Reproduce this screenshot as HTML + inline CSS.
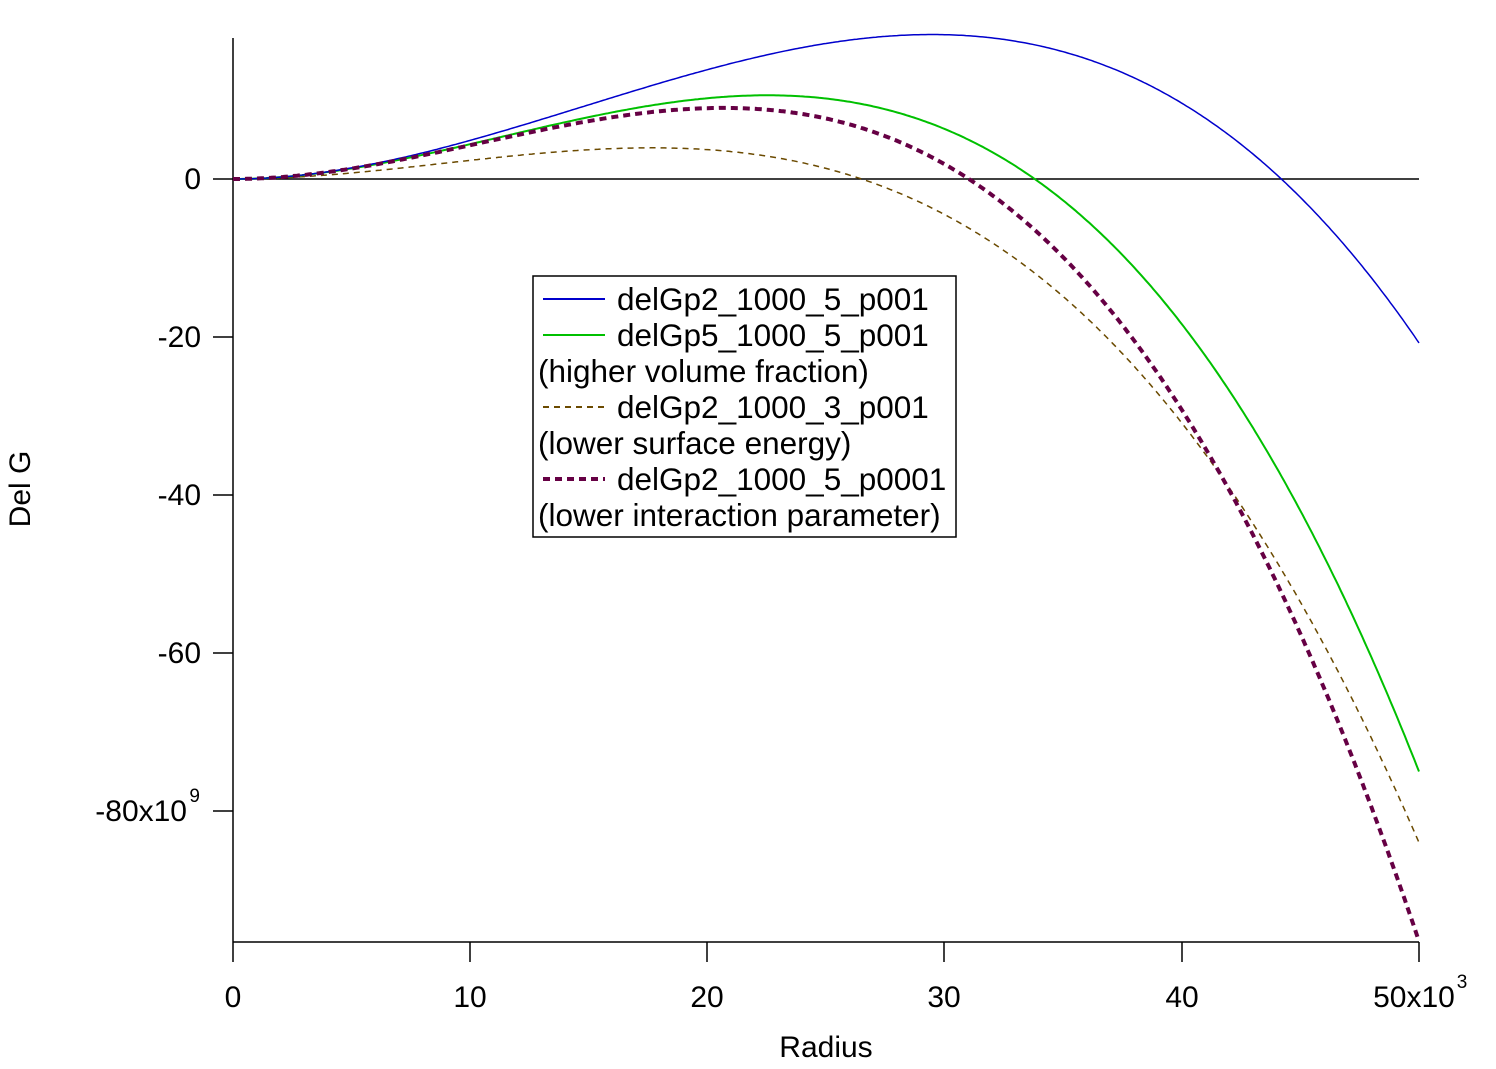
<!DOCTYPE html>
<html><head><meta charset="utf-8"><style>
html,body{margin:0;padding:0;background:#fff;}
svg text{font-family:"Liberation Sans",Arial,sans-serif;fill:#000;}
</style></head><body>
<svg id="s" width="1496" height="1064" viewBox="0 0 1496 1064" xmlns="http://www.w3.org/2000/svg">
<rect width="1496" height="1064" fill="#fff"/>
<g stroke="#000" stroke-width="1.5" fill="none">
<line x1="233" y1="38" x2="233" y2="942"/>
<line x1="233" y1="942" x2="1419" y2="942"/>
<line x1="233" y1="179" x2="1419" y2="179"/>
<line x1="233" y1="942" x2="233" y2="962"/>
<line x1="470" y1="942" x2="470" y2="962"/>
<line x1="707" y1="942" x2="707" y2="962"/>
<line x1="944" y1="942" x2="944" y2="962"/>
<line x1="1182" y1="942" x2="1182" y2="962"/>
<line x1="1419" y1="942" x2="1419" y2="962"/>
<line x1="213" y1="179" x2="233" y2="179"/>
<line x1="213" y1="337" x2="233" y2="337"/>
<line x1="213" y1="495" x2="233" y2="495"/>
<line x1="213" y1="653" x2="233" y2="653"/>
<line x1="213" y1="811" x2="233" y2="811"/>
</g>
<g font-size="30" text-anchor="middle">
<text x="233" y="1007">0</text>
<text x="470" y="1007">10</text>
<text x="707" y="1007">20</text>
<text x="944" y="1007">30</text>
<text x="1182" y="1007">40</text>
<text x="1414" y="1007">50x10</text>
<text x="1462" y="988" font-size="19">3</text>
<text x="826" y="1057">Radius</text>
</g>
<g font-size="30" text-anchor="end">
<text x="201" y="189">0</text>
<text x="201" y="347">-20</text>
<text x="201" y="505">-40</text>
<text x="201" y="663">-60</text>
<text x="187" y="821">-80x10</text>
<text x="200" y="802" font-size="19">9</text>
</g>
<text x="30" y="489" font-size="30" text-anchor="middle" transform="rotate(-90 30 489)">Del G</text>
<g id="curves" fill="none"></g>
<rect x="533" y="276" width="423" height="261" fill="#fff" stroke="#000" stroke-width="1.5"/>
<g stroke-width="2">
<line x1="543" y1="299" x2="605" y2="299" stroke="#0000cc"/>
<line x1="543" y1="335" x2="605" y2="335" stroke="#00c000"/>
<line x1="543" y1="407" x2="605" y2="407" stroke="#6b4a00" stroke-dasharray="6,5"/>
<line x1="543" y1="479" x2="605" y2="479" stroke="#660044" stroke-width="4" stroke-dasharray="7,5"/>
</g>
<g font-size="31.5">
<text x="617" y="310">delGp2_1000_5_p001</text>
<text x="617" y="346">delGp5_1000_5_p001</text>
<text x="538" y="382">(higher volume fraction)</text>
<text x="617" y="418">delGp2_1000_3_p001</text>
<text x="538" y="454">(lower surface energy)</text>
<text x="617" y="490">delGp2_1000_5_p0001</text>
<text x="538" y="526">(lower interaction parameter)</text>
</g>
</svg>
<script>
(function(){
var series=[
 {a:0.0379,b:0.00143,c:"#6b4a00",w:1.5,d:"6,5"},
 {a:0.0626,b:0.001852,c:"#00c000",w:2,d:""},
 {a:0.0632,b:0.00143,c:"#0000cc",w:1.5,d:""},
 {a:0.0631,b:0.002034,c:"#660044",w:4,d:"7,5"}
];
var g=document.getElementById("curves");var ns="http://www.w3.org/2000/svg";
series.forEach(function(s){
 var p="";
 for(var i=0;i<=500;i++){var r=i*0.1;var v=s.a*r*r-s.b*r*r*r;
  var x=233+r*23.72;var y=179-v*7.9;p+=(i?"L":"M")+x.toFixed(1)+","+y.toFixed(1);}
 var e=document.createElementNS(ns,"path");e.setAttribute("d",p);e.setAttribute("stroke",s.c);
 e.setAttribute("stroke-width",s.w);if(s.d)e.setAttribute("stroke-dasharray",s.d);g.appendChild(e);
});
})();
</script>
</body></html>
